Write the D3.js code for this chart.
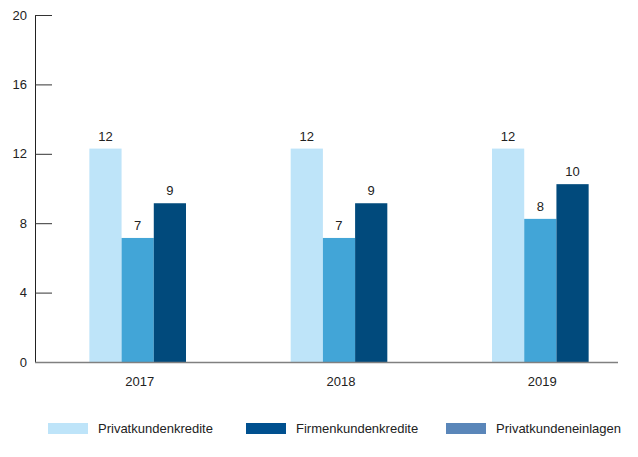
<!DOCTYPE html>
<html>
<head>
<meta charset="utf-8">
<script src="https://cdn.jsdelivr.net/npm/d3@7/dist/d3.min.js"></script>
<style>
  html, body { margin: 0; padding: 0; background: #fff; }
  svg { display: block; font-family: "Liberation Sans", Arial, sans-serif; }
</style>
</head>
<body>
<svg id="chart" width="638" height="457"></svg>
<script>
// Kreditvolumen je Jahr
const years = ["2017", "2018", "2019"];
const seriesNames = ["Privatkundenkredite", "Privatkundeneinlagen", "Firmenkundenkredite"];
const privatkundenkredite = [12.3, 12.3, 12.3];
const privatkundeneinlagen = [7.15, 7.15, 8.25];
const firmenkundenkredite = [9.15, 9.15, 10.25];
const valueLabels = [
  ["12", "12", "12"],
  ["7", "7", "8"],
  ["9", "9", "10"]
];
const yTicks = [0, 4, 8, 12, 16, 20];

const barColors = ["#bee4f9", "#42a5d7", "#014a7c"];
const legendItems = [
  { name: "Privatkundenkredite", color: "#bee4f9" },
  { name: "Firmenkundenkredite", color: "#00508f" },
  { name: "Privatkundeneinlagen", color: "#5a86b9" }
];

const series = [privatkundenkredite, privatkundeneinlagen, firmenkundenkredite];

const svg = d3.select("#chart");
const plotLeft = 35, axisRight = 618, plotTop = 15, plotBottom = 362;

const y = d3.scaleLinear().domain([0, 20]).range([plotBottom, plotTop]);
const x0 = d3.scaleBand().domain(years).range([plotLeft, 643])
  .paddingInner(0.52).paddingOuter(0.27);
const x1 = d3.scaleBand().domain(d3.range(series.length)).range([0, x0.bandwidth()]);

// y axis with inward ticks
const yAxis = svg.append("g").attr("transform", `translate(${plotLeft},0)`)
  .call(d3.axisLeft(y).tickValues(yTicks).tickSize(-17).tickPadding(8));
yAxis.select(".domain").attr("stroke", "#222").attr("stroke-width", 1)
  .attr("d", `M0.5,${plotTop}V${plotBottom}`);
yAxis.selectAll(".tick line").attr("stroke", "#333");
yAxis.selectAll(".tick text").attr("fill", "#222").attr("font-size", 13)
  .attr("font-family", "Liberation Sans, Arial, sans-serif");

// bars
const groups = svg.append("g").selectAll("g").data(years).join("g")
  .attr("transform", d => `translate(${x0(d)},0)`);

series.forEach((vals, si) => {
  groups.append("rect")
    .attr("x", x1(si))
    .attr("width", x1.bandwidth())
    .attr("y", (d, i) => y(vals[i]))
    .attr("height", (d, i) => y(0) - y(vals[i]))
    .attr("fill", barColors[si]);
  groups.append("text")
    .attr("x", x1(si) + x1.bandwidth() / 2)
    .attr("y", (d, i) => y(vals[i]) - 8)
    .attr("text-anchor", "middle")
    .attr("font-size", 13)
    .attr("fill", "#222")
    .text((d, i) => valueLabels[si][i]);
});

// x axis baseline
svg.append("line")
  .attr("x1", plotLeft).attr("x2", axisRight)
  .attr("y1", plotBottom + 0.5).attr("y2", plotBottom + 0.5)
  .attr("stroke", "#808080").attr("stroke-width", 1.6);

svg.append("g").selectAll("text").data(years).join("text")
  .attr("x", d => x0(d) + x0.bandwidth() / 2 + 2)
  .attr("y", 386)
  .attr("text-anchor", "middle")
  .attr("font-size", 13)
  .attr("fill", "#222")
  .text(d => d);

// legend
const legendX = [48, 246, 446];
const legend = svg.append("g").selectAll("g").data(legendItems).join("g")
  .attr("transform", (d, i) => `translate(${legendX[i]},423)`);
legend.append("rect").attr("width", 40).attr("height", 11).attr("fill", d => d.color);
legend.append("text").attr("x", 50).attr("y", 10)
  .attr("font-size", 13).attr("fill", "#222").text(d => d.name);
</script>
</body>
</html>
